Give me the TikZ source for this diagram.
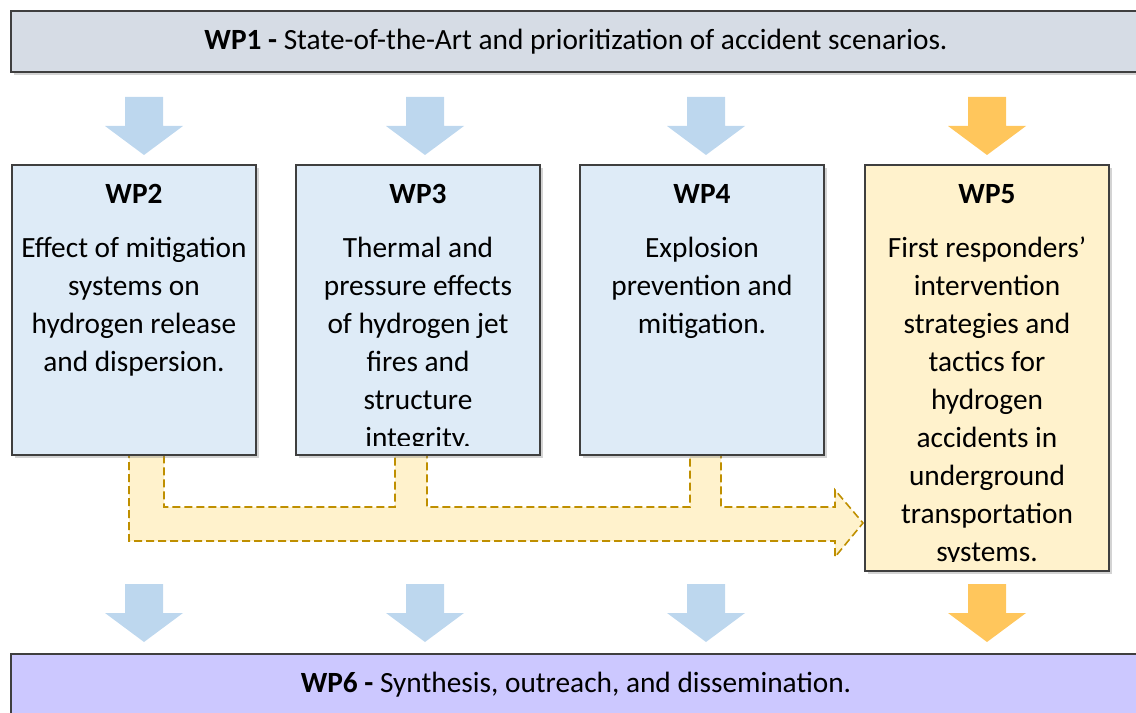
\documentclass[tikz,border=0pt]{standalone}
\usepackage{fontspec}
\setmainfont{Carlito}
\usetikzlibrary{positioning,shadows}

\definecolor{wpgrey}{HTML}{D6DCE5}
\definecolor{wpblue}{HTML}{DEEBF7}
\definecolor{wporange}{HTML}{FFF2CC}
\definecolor{wpviolet}{HTML}{CCC8FF}
\definecolor{arrowblue}{HTML}{BDD7EE}
\definecolor{arroworange}{HTML}{FFC65C}
\definecolor{feedline}{HTML}{BF8F00}
\definecolor{boxline}{HTML}{3F3F3F}

\begin{document}
\begin{tikzpicture}
  [x=0.75pt,y=-0.75pt,
   font=\fontsize{22pt}{28.5pt}\selectfont,
   wpbox/.style={rectangle,draw=boxline,line width=0.8pt,inner sep=0pt,outer sep=0pt,
     drop shadow={shadow xshift=2.5pt,shadow yshift=-2.5pt,opacity=0.35}},
   wptext/.style={align=center,inner sep=0pt},
   feedarrow/.style={fill=wporange,draw=feedline,line width=1.2pt,
     dash pattern=on 6pt off 3pt},
   blockarrow/.pic={\fill[#1] (0,0) -- (39,-29) -- (19,-29) -- (19,-58)
     -- (-19,-58) -- (-19,-29) -- (-39,-29) -- cycle;},
   node distance=30pt]

  \useasboundingbox (0,0) rectangle (1136,713);

  % feedback from WP2-WP4 into WP5
  \draw[feedarrow] (129,450) -- (129,541) -- (835,541) -- (835,557)
    -- (863,523) -- (835,490) -- (835,507) -- (721,507) -- (721,450)
    -- (690,450) -- (690,507) -- (427,507) -- (427,450) -- (395,450)
    -- (395,507) -- (164,507) -- (164,450);

  \node[wpbox,fill=wpgrey,minimum width=847.5pt,minimum height=45.75pt,
    anchor=north west] (wp1) at (11,11)
    {\textbf{WP1 -} State-of-the-Art and prioritization of accident scenarios.};

  \node[wpbox,fill=wpblue,minimum width=183pt,minimum height=217.5pt,
    anchor=north west] (wp2) at (12,165) {};

  \node[wpbox,fill=wpblue,minimum width=183pt,minimum height=217.5pt]
    (wp3) [right=of wp2.north east,anchor=north west] {};

  \node[wpbox,fill=wpblue,minimum width=183pt,minimum height=217.5pt]
    (wp4) [right=of wp3.north east,anchor=north west] {};

  \node[wpbox,fill=wporange,minimum width=183pt,minimum height=304.5pt]
    (wp5) [right=30.75pt of wp4.north east,anchor=north west] {};

  \node[wpbox,fill=wpviolet,minimum width=847.5pt,minimum height=45.75pt,
    anchor=north west] (wp6) at (11,654)
    {\textbf{WP6 -} Synthesis, outreach, and dissemination.};

  % box texts, cut at the inner margin
  \begin{scope}
    \clip (wp2.north west) rectangle ([yshift=7.5pt]wp2.south east);
    \node[wptext] (wp2txt) [below=14.25pt of wp2.north]
      {\textbf{WP2}\\[12pt]Effect of mitigation\\systems on\\hydrogen release\\and dispersion.};
  \end{scope}

  \begin{scope}
    \clip (wp3.north west) rectangle ([yshift=7.5pt]wp3.south east);
    \node[wptext] (wp3txt) [below=14.25pt of wp3.north]
      {\textbf{WP3}\\[12pt]Thermal and\\pressure effects\\of hydrogen jet\\fires and\\structure\\integrity.};
  \end{scope}

  \begin{scope}
    \clip (wp4.north west) rectangle ([yshift=7.5pt]wp4.south east);
    \node[wptext] (wp4txt) [below=14.25pt of wp4.north]
      {\textbf{WP4}\\[12pt]Explosion\\prevention and\\mitigation.};
  \end{scope}

  \begin{scope}
    \clip (wp5.north west) rectangle ([yshift=7.5pt]wp5.south east);
    \node[wptext] (wp5txt) [below=14.25pt of wp5.north]
      {\textbf{WP5}\\[12pt]First responders’\\intervention\\strategies and\\tactics for\\hydrogen\\accidents in\\underground\\transportation\\systems.};
  \end{scope}

  % block arrows
  \foreach \ax in {144,425,706} {
    \path (\ax,155) pic {blockarrow=arrowblue};
    \path (\ax,642) pic {blockarrow=arrowblue};
  }
  \path (987,155) pic {blockarrow=arroworange};
  \path (987,642) pic {blockarrow=arroworange};

\end{tikzpicture}
\end{document}
